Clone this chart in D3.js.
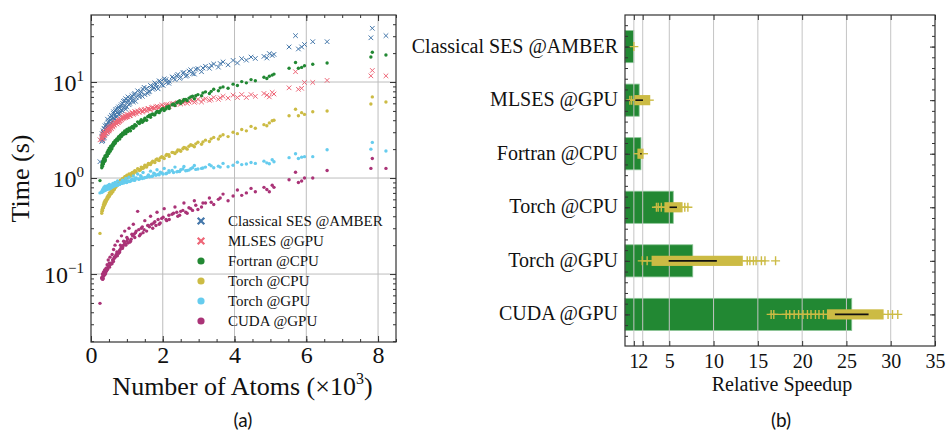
<!DOCTYPE html>
<html>
<head>
<meta charset="utf-8">
<script src="https://cdn.jsdelivr.net/npm/d3@7"></script>
<style>
  body { margin: 0; background: #fff; }
</style>
</head>
<body>
<script>
// ---- data: panel (a), one value per molecule ----
const atoms = [
  0.25,
  0.30, 0.31, 0.32, 0.33, 0.34, 0.35, 0.36, 0.37, 0.38, 0.39,
  0.40, 0.42, 0.43, 0.45, 0.46, 0.48, 0.50, 0.51, 0.53, 0.55,
  0.57, 0.59, 0.61, 0.63, 0.65, 0.67, 0.69, 0.72, 0.74, 0.77,
  0.80, 0.82, 0.85, 0.88, 0.91, 0.94, 0.97, 1.00, 1.03, 1.06,
  1.10, 1.14, 1.18, 1.22, 1.26, 1.30, 1.35, 1.40, 1.45, 1.50,
  1.55, 1.60, 1.66, 1.72, 1.78, 1.84, 1.90, 1.97, 2.04, 2.11,
  2.18, 2.26, 2.34, 2.42, 2.50, 2.59, 2.68, 2.78, 2.88, 2.98,
  3.08, 3.19, 3.30, 3.42, 3.55, 3.68, 3.82, 3.96, 4.08, 4.20,
  4.33, 4.46, 4.58, 4.82, 4.90, 4.97, 5.05, 5.10,
  5.52, 5.70, 5.78, 5.87, 5.95, 6.18, 6.58, 7.80, 7.84, 8.22,
  0.305, 0.325, 0.345, 0.365, 0.385, 0.41, 0.435, 0.455, 0.475, 0.495,
  0.515, 0.535, 0.56, 0.585, 0.605, 0.625, 0.645, 0.675, 0.705, 0.735,
  0.765, 0.79, 0.815, 0.845, 0.875, 0.905, 0.935, 0.965, 0.995, 1.025,
  1.08, 1.12, 1.16, 1.20, 1.24, 1.33, 1.38, 1.43, 1.48, 1.58,
  1.63, 1.69, 1.75, 1.81, 1.87, 1.93, 2.01, 2.09, 2.17, 2.30,
  2.39, 2.47, 2.56, 2.64, 2.73, 2.83, 2.92, 3.12, 3.35, 3.60
];
const tAmber = [
  1.48,
  2.4, 2.9, 2.5, 2.7, 3.1, 2.6, 3.3, 2.8, 3.0, 3.5,
  3.2, 2.9, 3.6, 3.4, 4.1, 3.3, 3.9, 3.5, 4.3, 3.7,
  4.5, 3.8, 4.2, 4.9, 4.1, 4.6, 5.2, 4.4, 4.8, 5.5,
  4.7, 5.6, 5.1, 6.0, 5.4, 6.4, 5.2, 6.1, 7.0, 5.8,
  6.6, 7.2, 6.2, 7.6, 6.9, 8.1, 7.0, 7.8, 8.4, 7.4,
  8.6, 7.9, 9.2, 8.4, 9.8, 8.9, 10.3, 9.4, 10.8, 9.9,
  10.2, 11.3, 10.6, 12.0, 11.2, 12.6, 11.7, 13.4, 12.1, 13.8,
  12.8, 14.6, 13.9, 15.4, 14.3, 16.2, 15.1, 16.8, 15.8, 17.5,
  16.9, 18.2, 17.6, 18.5, 17.8, 19.8, 18.9, 19.4,
  23.2, 30.4, 22.1, 23.2, 24.6, 26.3, 26.3, 28.9, 36.3, 30.4,
  2.7, 2.45, 3.0, 2.65, 3.2, 2.95, 3.5, 3.1, 3.8, 3.35,
  3.6, 4.0, 3.7, 4.4, 3.9, 4.7, 4.2, 5.0, 4.3, 5.3,
  4.6, 5.3, 4.9, 5.8, 5.0, 6.3, 5.6, 6.7, 5.5, 6.5,
  6.0, 6.9, 6.5, 7.4, 6.3, 7.3, 8.0, 7.1, 8.8, 7.6,
  8.0, 9.0, 8.7, 9.5, 8.5, 10.1, 9.2, 10.6, 9.7, 11.0,
  11.6, 10.9, 12.4, 11.5, 13.0, 12.2, 13.6, 14.0, 14.9, 15.6
];
const tMlses = [
  2.5,
  2.55, 2.7, 2.6, 2.8, 2.75, 2.9, 2.8, 3.0, 2.85, 2.95,
  3.0, 2.95, 3.1, 3.2, 3.05, 3.3, 3.15, 3.4, 3.25, 3.45,
  3.3, 3.55, 3.5, 3.7, 3.6, 3.85, 3.75, 3.65, 4.0, 3.9,
  3.9, 4.15, 4.05, 4.3, 4.2, 4.45, 4.25, 4.6, 4.35, 4.55,
  4.5, 4.75, 4.6, 4.9, 4.7, 5.0, 4.85, 5.15, 4.95, 5.2,
  5.0, 5.3, 5.15, 5.45, 5.3, 5.6, 5.4, 5.75, 5.5, 5.85,
  5.6, 5.95, 5.8, 6.1, 5.9, 6.3, 6.0, 6.5, 6.15, 6.6,
  6.2, 6.7, 6.45, 6.9, 6.6, 7.1, 6.8, 7.3, 6.9, 7.4,
  6.9, 7.4, 7.1, 7.6, 7.3, 7.0, 7.8, 7.5,
  8.7, 12.8, 8.4, 8.6, 9.9, 9.9, 10.4, 11.6, 13.2, 11.6,
  2.65, 2.6, 2.75, 2.85, 2.8, 2.95, 3.05, 3.0, 3.15, 3.1,
  3.2, 3.35, 3.3, 3.45, 3.4, 3.6, 3.55, 3.75, 3.7, 3.8,
  3.8, 4.0, 3.95, 4.1, 4.15, 4.25, 4.3, 4.4, 4.35, 4.5,
  4.45, 4.65, 4.8, 4.7, 4.9, 4.85, 5.05, 4.9, 5.1, 5.25,
  5.2, 5.4, 5.35, 5.5, 5.45, 5.55, 5.65, 5.7, 5.8, 5.95,
  6.0, 6.15, 6.05, 6.25, 6.2, 6.4, 6.3, 6.55, 6.6, 6.85
];
const tFortran = [
  0.94,
  1.28, 1.4, 1.33, 1.5, 1.42, 1.58, 1.47, 1.62, 1.52, 1.7,
  1.55, 1.72, 1.68, 1.85, 1.78, 1.95, 1.88, 2.05, 1.98, 2.15,
  2.0, 2.2, 2.15, 2.35, 2.28, 2.45, 2.4, 2.55, 2.5, 2.7,
  2.55, 2.8, 2.7, 2.95, 2.85, 3.1, 2.9, 3.2, 3.05, 3.3,
  3.1, 3.4, 3.3, 3.6, 3.5, 3.85, 3.7, 4.05, 3.9, 4.2,
  4.0, 4.4, 4.3, 4.65, 4.55, 4.95, 4.8, 5.2, 5.05, 5.5,
  5.3, 5.8, 5.7, 6.2, 6.0, 6.6, 6.4, 7.0, 6.7, 7.4,
  7.2, 7.9, 7.6, 8.4, 8.1, 8.9, 8.6, 9.5, 9.2, 10.1,
  9.8, 10.6, 10.3, 11.2, 10.9, 11.5, 11.8, 12.1,
  13.9, 16.0, 13.9, 14.2, 14.8, 15.3, 15.8, 18.2, 20.4, 19.1,
  1.35, 1.45, 1.4, 1.55, 1.5, 1.65, 1.75, 1.7, 1.85, 1.8,
  2.0, 1.9, 2.1, 2.05, 2.25, 2.2, 2.35, 2.3, 2.5, 2.45,
  2.65, 2.6, 2.75, 2.85, 2.8, 2.9, 3.0, 2.95, 3.1, 3.15,
  3.25, 3.35, 3.45, 3.4, 3.55, 3.75, 3.9, 3.8, 4.0, 4.35,
  4.5, 4.6, 4.55, 4.8, 4.9, 5.0, 5.3, 5.25, 5.6, 5.9,
  6.1, 6.4, 6.3, 6.6, 6.8, 7.1, 7.2, 7.7, 8.0, 8.7
];
const tTorchCpu = [
  0.265,
  0.43, 0.47, 0.46, 0.5, 0.49, 0.53, 0.51, 0.56, 0.54, 0.58,
  0.55, 0.6, 0.58, 0.63, 0.61, 0.66, 0.64, 0.7, 0.67, 0.72,
  0.69, 0.74, 0.72, 0.78, 0.76, 0.82, 0.8, 0.86, 0.84, 0.9,
  0.88, 0.95, 0.92, 0.99, 0.96, 1.03, 0.98, 1.07, 1.02, 1.1,
  1.05, 1.13, 1.1, 1.19, 1.15, 1.25, 1.2, 1.3, 1.26, 1.36,
  1.3, 1.42, 1.38, 1.5, 1.45, 1.58, 1.52, 1.67, 1.6, 1.76,
  1.68, 1.85, 1.8, 1.96, 1.9, 2.08, 2.0, 2.22, 2.12, 2.36,
  2.25, 2.48, 2.4, 2.65, 2.55, 2.82, 2.7, 3.0, 2.9, 3.2,
  3.1, 3.45, 3.3, 3.6, 3.5, 3.75, 3.95, 4.0,
  4.46, 5.2, 4.46, 4.8, 4.6, 4.9, 5.0, 5.9, 7.0, 6.2,
  0.45, 0.48, 0.49, 0.52, 0.53, 0.56, 0.59, 0.6, 0.62, 0.65,
  0.65, 0.68, 0.7, 0.73, 0.74, 0.77, 0.78, 0.82, 0.83, 0.87,
  0.87, 0.91, 0.9, 0.94, 0.97, 0.95, 1.0, 1.04, 1.01, 1.06,
  1.08, 1.11, 1.14, 1.16, 1.18, 1.23, 1.22, 1.28, 1.29, 1.37,
  1.4, 1.45, 1.48, 1.55, 1.54, 1.62, 1.64, 1.72, 1.75, 1.84,
  1.88, 1.95, 2.02, 2.06, 2.14, 2.18, 2.27, 2.38, 2.56, 2.72
];
const tTorchGpu = [
  0.70,
  0.72, 0.73, 0.75, 0.74, 0.77, 0.75, 0.8, 0.76, 0.78, 0.82,
  0.76, 0.78, 0.8, 0.77, 0.83, 0.79, 0.81, 0.86, 0.8, 0.84,
  0.8, 0.83, 0.88, 0.82, 0.85, 0.9, 0.84, 0.87, 0.93, 0.86,
  0.86, 0.9, 0.88, 0.95, 0.89, 0.92, 0.99, 0.91, 0.94, 1.02,
  0.93, 0.97, 1.05, 0.95, 1.0, 1.1, 0.98, 1.03, 1.14, 1.01,
  1.02, 1.08, 1.18, 1.05, 1.1, 1.22, 1.08, 1.13, 1.26, 1.12,
  1.15, 1.2, 1.3, 1.17, 1.22, 1.32, 1.2, 1.25, 1.35, 1.24,
  1.26, 1.3, 1.38, 1.28, 1.33, 1.42, 1.31, 1.36, 1.46, 1.38,
  1.4, 1.45, 1.42, 1.5, 1.44, 1.41, 1.55, 1.48,
  1.63, 1.79, 1.6, 1.65, 1.67, 1.67, 1.97, 2.0, 2.35, 1.91,
  0.71, 0.72, 0.73, 0.74, 0.74, 0.75, 0.76, 0.78, 0.77, 0.79,
  0.77, 0.78, 0.79, 0.8, 0.81, 0.82, 0.84, 0.83, 0.85, 0.84,
  0.85, 0.86, 0.87, 0.89, 0.88, 0.91, 0.9, 0.93, 0.9, 0.92,
  0.92, 0.94, 0.96, 0.95, 0.99, 0.97, 1.06, 0.99, 1.0, 1.04,
  1.03, 1.04, 1.12, 1.07, 1.09, 1.15, 1.1, 1.11, 1.19, 1.14,
  1.16, 1.17, 1.24, 1.19, 1.21, 1.28, 1.23, 1.27, 1.34, 1.3
];
const tCuda = [
  0.0495,
  0.09, 0.092, 0.1, 0.095, 0.09, 0.105, 0.1, 0.098, 0.11, 0.105,
  0.1, 0.115, 0.108, 0.125, 0.112, 0.14, 0.12, 0.13, 0.15, 0.128,
  0.13, 0.16, 0.14, 0.18, 0.15, 0.2, 0.155, 0.17, 0.22, 0.165,
  0.17, 0.2, 0.25, 0.19, 0.22, 0.28, 0.2, 0.24, 0.21, 0.3,
  0.22, 0.26, 0.33, 0.24, 0.28, 0.45, 0.25, 0.3, 0.27, 0.36,
  0.28, 0.32, 0.4, 0.3, 0.35, 0.44, 0.33, 0.38, 0.48, 0.36,
  0.37, 0.42, 0.5, 0.4, 0.45, 0.55, 0.43, 0.48, 0.58, 0.47,
  0.5, 0.55, 0.62, 0.53, 0.6, 0.68, 0.58, 0.65, 0.75, 0.66,
  0.7, 0.78, 0.72, 0.8, 0.76, 0.72, 0.84, 0.8,
  0.96, 1.15, 0.9, 0.93, 1.0, 1.0, 1.2, 1.26, 1.6, 1.26,
  0.092, 0.088, 0.095, 0.098, 0.1, 0.103, 0.108, 0.112, 0.118, 0.12,
  0.118, 0.125, 0.13, 0.128, 0.14, 0.135, 0.145, 0.15, 0.16, 0.155,
  0.165, 0.175, 0.18, 0.19, 0.185, 0.2, 0.21, 0.205, 0.22, 0.23,
  0.215, 0.23, 0.25, 0.26, 0.27, 0.29, 0.26, 0.31, 0.29, 0.32,
  0.31, 0.33, 0.34, 0.32, 0.37, 0.34, 0.39, 0.37, 0.41, 0.43,
  0.44, 0.41, 0.46, 0.44, 0.49, 0.46, 0.52, 0.55, 0.56, 0.62
];

const methods = ['Classical SES @AMBER', 'MLSES @GPU', 'Fortran @CPU', 'Torch @CPU', 'Torch @GPU', 'CUDA @GPU'];
const times = [tAmber, tMlses, tFortran, tTorchCpu, tTorchGpu, tCuda];

// ---- data: panel (b) ----
const speedMean = [1.0, 1.6, 1.8, 5.45, 7.65, 25.6];
const speedStd = [0, 0.43, 0.08, 0.42, 2.72, 1.9];
const boxQ1 = [1.0, 1.05, 1.4, 4.45, 3.0, 22.8];
const boxQ3 = [1.0, 2.85, 2.1, 6.5, 13.3, 29.2];
const whiskLo = [1.0, 0.6, 1.0, 3.9, 1.9, 16.4];
const whiskHi = [1.0, 3.25, 2.6, 6.9, 13.6, 29.4];
const fliers = [
  [1.0],
  [0.55, 0.75],
  [],
  [3.55, 3.75, 4.1, 6.75, 7.1],
  [1.95, 2.5, 13.8, 14.1, 14.5, 14.8, 15.4, 15.8, 17.0],
  [16.5, 16.8, 18.2, 18.6, 19.1, 19.6, 20.1, 20.6, 21.0, 21.5, 21.9, 22.4, 29.7, 30.2, 30.8]
];

const xTicksA = [0, 2, 4, 6, 8];
const yTicksA = [0.1, 1, 10];
const yTickExp = ['\u22121', '0', '1'];
const xTicksB = [1, 2, 5, 10, 15, 20, 25, 30, 35];

// ---- styles ----
const colors = ['#4477AA', '#EE6677', '#228833', '#CCBB44', '#66CCEE', '#AA3377'];
const isCross = [true, true, false, false, false, false];
const boxColor = '#CCBB44', barColor = '#228833';
const serif = '"Liberation Serif", "DejaVu Serif", serif';
const sans = 'Lato, "Open Sans", sans-serif';

const svg = d3.select('body').append('svg')
    .attr('width', 947)
    .attr('height', 437)
    .style('font-family', serif);

const crossPath = s => `M${-s},${-s}L${s},${s}M${-s},${s}L${s},${-s}`;

const addText = (sel, size) => sel.append('text')
    .style('font-family', serif)
    .style('font-size', size + 'px')
    .attr('fill', '#111');

// ================= panel (a) =================
const A = {left: 91, right: 396, top: 15, bottom: 342};

const x = d3.scaleLinear().domain([0, 8.5]).range([A.left, A.right]);
const y = d3.scaleLog().domain([0.0196, 49.9]).range([A.bottom, A.top]);

const pa = svg.append('g').attr('class', 'panel-a');

// grid
pa.append('g').selectAll('line').data(xTicksA.filter(d => d > 0)).join('line')
    .attr('x1', d => x(d)).attr('x2', d => x(d))
    .attr('y1', A.top).attr('y2', A.bottom)
    .attr('stroke', '#bdbdbd').attr('stroke-width', 1);
pa.append('g').selectAll('line').data(yTicksA).join('line')
    .attr('x1', A.left).attr('x2', A.right)
    .attr('y1', d => y(d)).attr('y2', d => y(d))
    .attr('stroke', '#bdbdbd').attr('stroke-width', 1);

// scatter
times.forEach((ts, s) => {
    const pts = atoms.map((a, i) => ({a, t: ts[i]}));
    const g = pa.append('g').attr('class', 'series');
    if (isCross[s]) {
        g.selectAll('path').data(pts).join('path')
            .attr('transform', d => `translate(${x(d.a)},${y(d.t)})`)
            .attr('d', crossPath(2.3))
            .attr('fill', 'none')
            .attr('stroke', colors[s])
            .attr('stroke-width', 1);
    } else {
        g.selectAll('circle').data(pts).join('circle')
            .attr('cx', d => x(d.a))
            .attr('cy', d => y(d.t))
            .attr('r', 1.7)
            .attr('fill', colors[s]);
    }
});

// legend
const legend = pa.append('g').attr('transform', 'translate(201, 221)');
methods.forEach((m, i) => {
    const row = legend.append('g').attr('transform', `translate(0, ${i * 20})`);
    if (isCross[i]) {
        row.append('path').attr('d', crossPath(3.3))
            .attr('stroke', colors[i]).attr('stroke-width', 2.2).attr('fill', 'none');
    } else {
        row.append('circle').attr('r', 3.6).attr('fill', colors[i]);
    }
    addText(row, 15).attr('x', 27).attr('y', 5).text(m);
});

// ticks (inward, all four sides)
const xMinorA = d3.range(0, 8.51, 0.5);
const yMinorA = [];
[0.01, 0.1, 1, 10].forEach(dec => d3.range(2, 10).forEach(k => {
    const v = k * dec;
    if (v > y.domain()[0] && v < y.domain()[1]) yMinorA.push(v);
}));

const tickGroup = (parent, axis, tr) => {
    const g = parent.append('g').attr('transform', tr).call(axis);
    g.attr('font-family', null);
    g.select('.domain').remove();
    g.selectAll('line').attr('stroke', '#333');
    g.selectAll('text').style('font-family', serif).attr('fill', '#111');
    return g;
};
tickGroup(pa, d3.axisBottom(x).tickValues(xMinorA).tickSize(-3).tickFormat(''), `translate(0,${A.bottom})`);
tickGroup(pa, d3.axisTop(x).tickValues(xMinorA).tickSize(-3).tickFormat(''), `translate(0,${A.top})`);
tickGroup(pa, d3.axisLeft(y).tickValues(yMinorA).tickSize(-3).tickFormat(''), `translate(${A.left},0)`);
tickGroup(pa, d3.axisRight(y).tickValues(yMinorA).tickSize(-3).tickFormat(''), `translate(${A.right},0)`);
tickGroup(pa, d3.axisTop(x).tickValues(xTicksA).tickSize(-6).tickFormat(''), `translate(0,${A.top})`);
tickGroup(pa, d3.axisLeft(y).tickValues(yTicksA).tickSize(-6).tickFormat(''), `translate(${A.left},0)`);
tickGroup(pa, d3.axisRight(y).tickValues(yTicksA).tickSize(-6).tickFormat(''), `translate(${A.right},0)`);
tickGroup(pa, d3.axisBottom(x).tickValues(xTicksA).tickSize(-6).tickPadding(4).tickFormat(d3.format('d')),
    `translate(0,${A.bottom})`)
    .selectAll('text').style('font-size', '24px');

// log tick labels with superscripts
yTicksA.forEach((v, i) => {
    const t = addText(pa, 24)
        .attr('x', 84)
        .attr('y', y(v) + 9)
        .attr('text-anchor', 'end');
    t.append('tspan').text('10');
    t.append('tspan').attr('dy', -10).style('font-size', '15px').text(yTickExp[i]);
});

pa.append('rect')
    .attr('x', A.left).attr('y', A.top)
    .attr('width', A.right - A.left).attr('height', A.bottom - A.top)
    .attr('fill', 'none').attr('stroke', '#333').attr('stroke-width', 1.2);

const xTitle = addText(pa, 26)
    .attr('x', (A.left + A.right) / 2 - 1)
    .attr('y', 395)
    .attr('text-anchor', 'middle');
xTitle.append('tspan').text('Number of Atoms (\u00d710');
xTitle.append('tspan').attr('dy', -11).style('font-size', '16px').text('3');
xTitle.append('tspan').attr('dy', 11).text(')');

addText(pa, 26)
    .attr('transform', `translate(29, ${(A.top + A.bottom) / 2}) rotate(-90)`)
    .attr('text-anchor', 'middle')
    .text('Time (s)');

// ================= panel (b) =================
const B = {left: 625, right: 935, top: 15, bottom: 346};

const xb = d3.scaleLinear().domain([0, 35]).range([B.left, B.right]);
const yb = d3.scaleLinear().domain([-0.59, 5.59]).range([B.top, B.bottom]);
const barH = 0.6, boxH = 0.19;

const pb = svg.append('g').attr('class', 'panel-b');

// bars
pb.append('g').selectAll('rect').data(methods).join('rect')
    .attr('x', xb(0))
    .attr('y', (d, i) => yb(i - barH / 2))
    .attr('width', (d, i) => xb(speedMean[i]) - xb(0))
    .attr('height', yb(barH) - yb(0))
    .attr('fill', barColor)
    .attr('stroke', '#8cc596')
    .attr('stroke-width', 0.8);

// grid above bars
pb.append('g').selectAll('line').data(xTicksB.filter(d => d < 35)).join('line')
    .attr('x1', d => xb(d)).attr('x2', d => xb(d))
    .attr('y1', B.top).attr('y2', B.bottom)
    .attr('stroke', '#c4c4c4').attr('stroke-width', 1);

// box plots
const boxes = pb.append('g').selectAll('g').data(methods).join('g');
boxes.append('line')
    .attr('x1', (d, i) => xb(whiskLo[i])).attr('x2', (d, i) => xb(whiskHi[i]))
    .attr('y1', (d, i) => yb(i)).attr('y2', (d, i) => yb(i))
    .attr('stroke', boxColor).attr('stroke-width', 1.4);
boxes.append('rect')
    .attr('x', (d, i) => xb(boxQ1[i]))
    .attr('y', (d, i) => yb(i - boxH / 2))
    .attr('width', (d, i) => xb(boxQ3[i]) - xb(boxQ1[i]))
    .attr('height', yb(boxH) - yb(0))
    .attr('fill', boxColor);
boxes.each(function (d, i) {
    d3.select(this).selectAll('path').data(fliers[i]).join('path')
        .attr('transform', v => `translate(${xb(v)},${yb(i)})`)
        .attr('d', 'M-4.5,0H4.5M0,-4.5V4.5')
        .attr('fill', 'none')
        .attr('stroke', boxColor)
        .attr('stroke-width', 1.4);
});

// error bars (mean +/- std)
pb.append('g').selectAll('line').data(methods).join('line')
    .attr('x1', (d, i) => xb(speedMean[i] - speedStd[i]))
    .attr('x2', (d, i) => xb(speedMean[i] + speedStd[i]))
    .attr('y1', (d, i) => yb(i)).attr('y2', (d, i) => yb(i))
    .attr('stroke', '#111').attr('stroke-width', 1.6);

const yMinorB = d3.range(-0.4, 5.5, 0.2).map(v => +v.toFixed(1));
tickGroup(pb, d3.axisLeft(yb).tickValues(yMinorB).tickSize(-3).tickFormat(''), `translate(${B.left},0)`);
tickGroup(pb, d3.axisRight(yb).tickValues(yMinorB).tickSize(-3).tickFormat(''), `translate(${B.right},0)`);
tickGroup(pb, d3.axisLeft(yb).tickValues(d3.range(6)).tickSize(-5).tickFormat(''), `translate(${B.left},0)`);
tickGroup(pb, d3.axisRight(yb).tickValues(d3.range(6)).tickSize(-5).tickFormat(''), `translate(${B.right},0)`);
tickGroup(pb, d3.axisTop(xb).tickValues(xTicksB).tickSize(-5).tickFormat(''), `translate(0,${B.top})`);
tickGroup(pb, d3.axisBottom(xb).tickValues(xTicksB).tickSize(-5).tickPadding(8).tickFormat(d3.format('d')),
    `translate(0,${B.bottom})`)
    .selectAll('text').style('font-size', '20px');

methods.forEach((m, i) => {
    addText(pb, 20)
        .attr('x', 618)
        .attr('y', yb(i) + 6)
        .attr('text-anchor', 'end')
        .text(m);
});

pb.append('rect')
    .attr('x', B.left).attr('y', B.top)
    .attr('width', B.right - B.left).attr('height', B.bottom - B.top)
    .attr('fill', 'none').attr('stroke', '#333').attr('stroke-width', 1.2);

addText(pb, 20)
    .attr('x', 782).attr('y', 391)
    .attr('text-anchor', 'middle')
    .text('Relative Speedup');

// captions
['(a)', '(b)'].forEach((c, i) => {
    svg.append('text')
        .attr('x', i ? 781 : 243).attr('y', 427)
        .attr('text-anchor', 'middle')
        .style('font-family', sans)
        .style('font-size', '19px')
        .attr('fill', '#111')
        .text(c);
});
</script>
</body>
</html>
